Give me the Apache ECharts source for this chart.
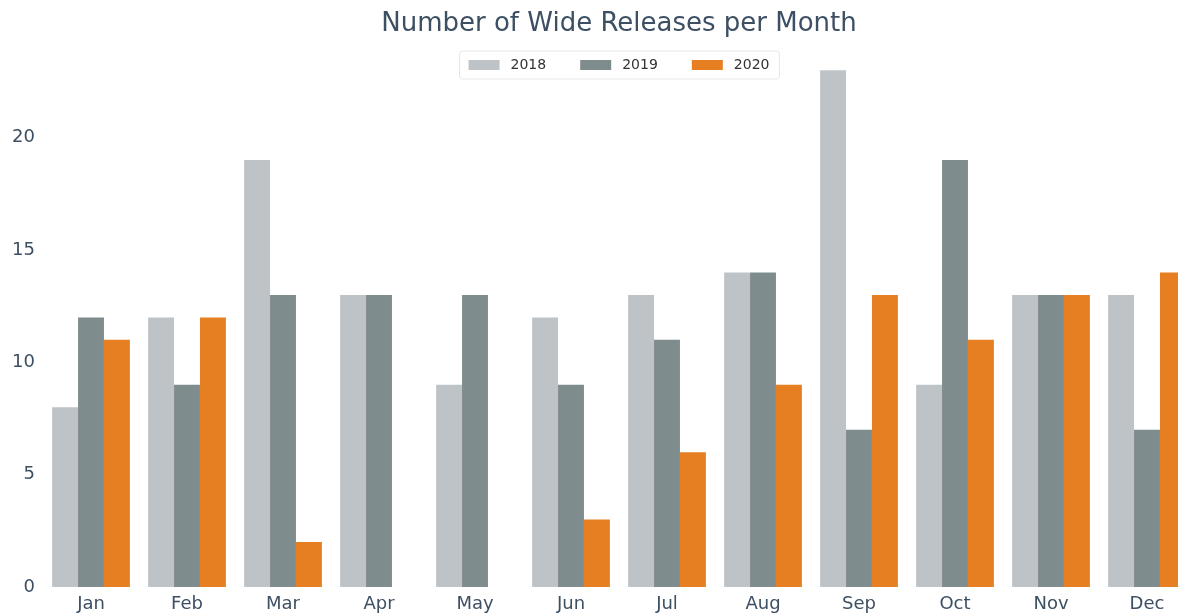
<!DOCTYPE html>
<html>
<head>
<meta charset="utf-8">
<script src="https://cdn.jsdelivr.net/npm/echarts@6/dist/echarts.min.js"></script>
<style>
  html, body { margin: 0; padding: 0; overflow: hidden; background: #fff; }
  #chart { width: 1238px; height: 614px; }
</style>
</head>
<body>
<div id="chart"></div>
<script>
// month categories
const months = ['Jan', 'Feb', 'Mar', 'Apr', 'May', 'Jun', 'Jul', 'Aug', 'Sep', 'Oct', 'Nov', 'Dec']
// wide releases per month
const releases2018 = [8, 12, 19, 13, 9, 12, 13, 14, 23, 9, 13, 13]
const releases2019 = [12, 9, 13, 13, 13, 9, 11, 14, 7, 19, 13, 7]
const releases2020 = [11, 12, 2, 0, 0, 3, 6, 9, 13, 11, 13, 14]
const yTicks = [0, 5, 10, 15, 20]

const textColor = '#3d4f63'
const font = 'DejaVu Sans'

const chart = echarts.init(document.getElementById('chart'))

function barSeries(name, data, color) {
  return {
    name: name,
    type: 'bar',
    data: data,
    barGap: '0%',
    barCategoryGap: '19%',
    itemStyle: { color: color },
    animation: false
  }
}

chart.setOption({
  animation: false,
  title: {
    text: 'Number of Wide Releases per Month',
    left: 'center',
    top: 6,
    textStyle: { color: textColor, fontFamily: font, fontSize: 26, fontWeight: 'normal' }
  },
  legend: {
    top: 51,
    left: 'center',
    icon: 'rect',
    itemWidth: 31,
    itemHeight: 10,
    itemGap: 34,
    padding: [7, 10, 7, 9],
    borderColor: '#e6e6e6',
    borderWidth: 1,
    borderRadius: 3,
    textStyle: { color: '#333', fontFamily: font, fontSize: 14, padding: [0, 0, 0, 6] },
    data: ['2018', '2019', '2020']
  },
  grid: {
    left: 43,
    right: 43,
    top: 59,
    bottom: 27
  },
  xAxis: {
    type: 'category',
    data: months,
    axisLine: { show: false },
    axisTick: { show: false },
    axisLabel: { color: textColor, fontFamily: font, fontSize: 18, margin: 8 }
  },
  yAxis: {
    type: 'value',
    min: 0,
    max: 23.5,
    interval: 5,
    splitLine: { show: false },
    axisLine: { show: false },
    axisTick: { show: false },
    axisLabel: {
      color: textColor,
      fontFamily: font,
      fontSize: 18,
      margin: 8,
      formatter: function(v) { return yTicks.indexOf(v) > -1 ? v : '' }
    }
  },
  series: [
    barSeries('2018', releases2018, '#bdc3c7'),
    barSeries('2019', releases2019, '#7f8c8d'),
    barSeries('2020', releases2020, '#e67e22')
  ]
})
</script>
</body>
</html>
